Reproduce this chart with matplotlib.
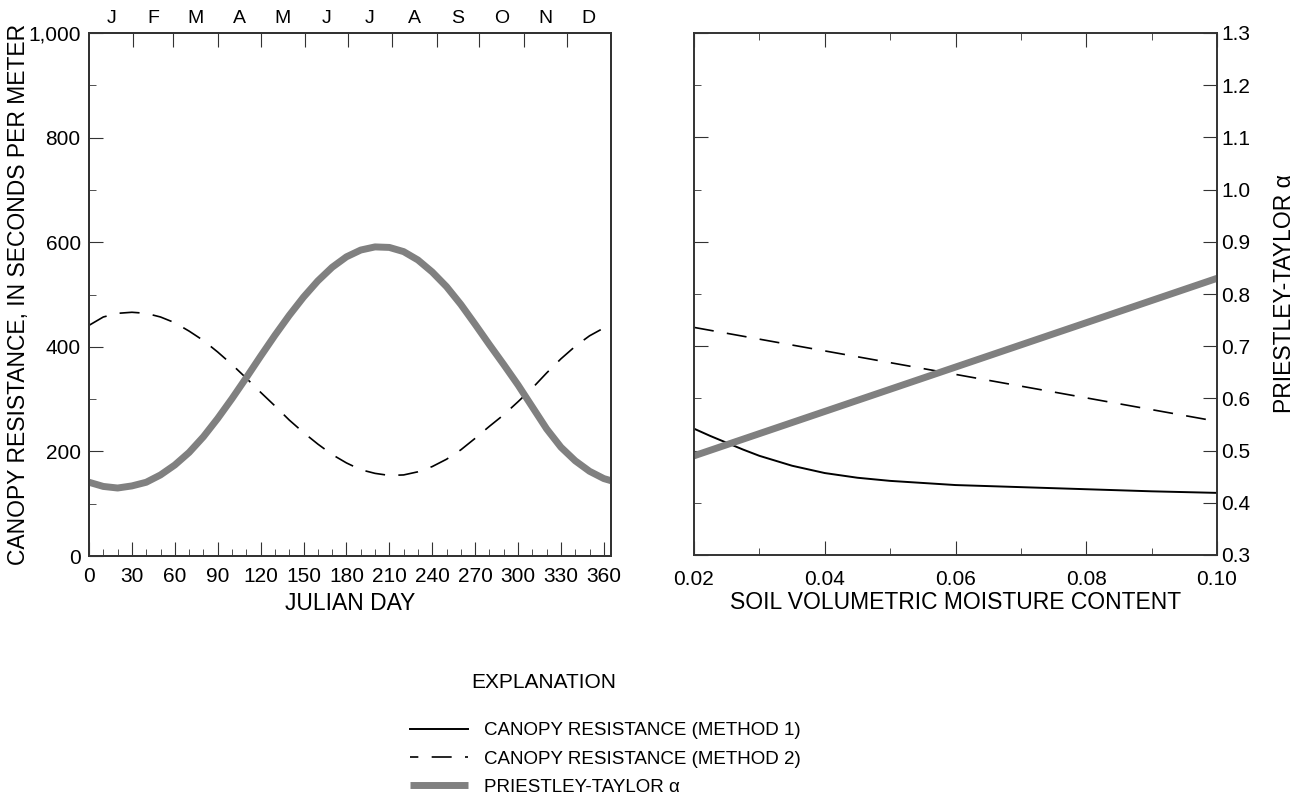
import matplotlib
matplotlib.use('Agg')
from matplotlib import pyplot as plt
from matplotlib.lines import Line2D
from matplotlib.ticker import FuncFormatter

plt.rcParams['font.family'] = ['Liberation Sans', 'DejaVu Sans']

# ---- left panel: julian day ----
days = [0, 10, 20, 30, 40, 50, 60, 70, 80, 90, 100, 110, 120, 130, 140, 150, 160, 170, 180,
        190, 200, 210, 220, 230, 240, 250, 260, 270, 280, 290, 300, 310, 320, 330, 340, 350, 360, 365]
rc_method2_day = [441, 457, 464, 466, 464, 457, 446, 430, 412, 390, 366, 340, 313, 287, 260, 236, 214, 194, 178,
                  165, 158, 154, 155, 161, 171, 185, 203, 225, 248, 270, 295, 321, 350, 377, 401, 421, 436, 441]
alpha_day = [0.441, 0.433, 0.430, 0.434, 0.441, 0.455, 0.474, 0.498, 0.528, 0.563, 0.601, 0.641, 0.682,
             0.722, 0.760, 0.795, 0.826, 0.852, 0.872, 0.885, 0.891, 0.890, 0.882, 0.866, 0.843, 0.815,
             0.781, 0.743, 0.704, 0.666, 0.627, 0.585, 0.543, 0.508, 0.482, 0.462, 0.448, 0.444]

month_edges = [31, 59, 90, 120, 151, 181, 212, 243, 273, 304, 334]
month_mid = [15.5, 45, 74.5, 105, 135.5, 166, 196.5, 227.5, 258, 288.5, 319, 349.5]
month_labels = ['J', 'F', 'M', 'A', 'M', 'J', 'J', 'A', 'S', 'O', 'N', 'D']

# ---- right panel: soil moisture ----
moisture = [0.02, 0.0225, 0.025, 0.0275, 0.03, 0.035, 0.04, 0.045, 0.05, 0.06, 0.07, 0.08, 0.09, 0.10]
rc_method1 = [242, 228, 215, 202, 190, 171, 157, 148, 142, 134, 130, 126, 122, 119]
moisture_lin = [0.02, 0.04, 0.06, 0.08, 0.10]
rc_method2_moist = [436, 391, 346, 301, 256]
alpha_moist = [0.49, 0.575, 0.66, 0.745, 0.83]

GRAY = '#808080'
SPINE = '#333333'
FS = 15      # tick labels
FL = 16.5    # axis labels
FE = 13.5    # legend
dash = (12, 8)

fig = plt.figure(figsize=(13.02, 7.98), dpi=100)

def style_spines(ax):
    for s in ax.spines.values():
        s.set_color(SPINE)
        s.set_linewidth(1.2)

# left panel
ax1 = fig.add_axes([89/1302, 1-556/798, (611-89)/1302, (556-33)/798])
ax1.plot(days, rc_method2_day, color='black', lw=1.2, dashes=dash)
ax1.set_xlim(0, 365)
ax1.set_ylim(0, 1000)
ax1.set_xticks(range(0, 361, 30))
ax1.set_xticks(range(0, 366, 10), minor=True)
ax1.set_yticks(range(0, 1001, 200))
ax1.set_yticks(range(0, 1001, 100), minor=True)
ax1.yaxis.set_major_formatter(FuncFormatter(lambda v, p: f'{int(v):,}'))
ax1.tick_params(axis='x', which='major', direction='in', length=10, pad=8, labelsize=FS, color=SPINE)
ax1.tick_params(axis='x', which='minor', direction='in', length=5, color=SPINE)
ax1.tick_params(axis='y', which='major', direction='in', length=10, pad=6, labelsize=FS, color=SPINE)
ax1.tick_params(axis='y', which='minor', direction='in', length=5, color=SPINE)
ax1.set_xlabel('JULIAN DAY', fontsize=FL, labelpad=4)
ax1.set_ylabel('CANOPY RESISTANCE, IN SECONDS PER METER', fontsize=FL, labelpad=-1)
style_spines(ax1)

ax1a = ax1.twinx()
ax1a.plot(days, alpha_day, color=GRAY, lw=5, solid_capstyle='butt')
ax1a.set_ylim(0.3, 1.3)
ax1a.set_yticks([])
style_spines(ax1a)

ax1t = ax1.twiny()
ax1t.set_xlim(0, 365)
ax1t.set_xticks(month_edges)
ax1t.set_xticklabels([])
ax1t.set_xticks(month_mid, minor=True)
ax1t.set_xticklabels(month_labels, minor=True)
ax1t.tick_params(axis='x', which='major', direction='in', length=10, color=SPINE)
ax1t.tick_params(axis='x', which='minor', length=0, pad=4, labelsize=14)
style_spines(ax1t)

# right panel
ax2 = fig.add_axes([694/1302, 1-555/798, (1217-694)/1302, (555-33)/798])
ax2.plot(moisture, rc_method1, color='black', lw=1.4)
ax2.plot(moisture_lin, rc_method2_moist, color='black', lw=1.2, dashes=dash)
ax2.set_xlim(0.02, 0.10)
ax2.set_ylim(0, 1000)
ax2.set_xticks([0.02, 0.04, 0.06, 0.08, 0.10])
ax2.set_xticklabels(['0.02', '0.04', '0.06', '0.08', '0.10'])
ax2.set_xticks([0.03, 0.05, 0.07, 0.09], minor=True)
ax2.set_yticks(range(0, 1001, 200))
ax2.set_yticks(range(0, 1001, 100), minor=True)
ax2.tick_params(axis='x', which='major', direction='in', length=10, pad=11, top=True, labelsize=FS, color=SPINE)
ax2.tick_params(axis='x', which='minor', direction='in', length=5, top=True, color=SPINE)
ax2.tick_params(axis='y', which='major', direction='in', length=10, labelleft=False, color=SPINE)
ax2.tick_params(axis='y', which='minor', direction='in', length=5, color=SPINE)
ax2.set_xlabel('SOIL VOLUMETRIC MOISTURE CONTENT', fontsize=FL, labelpad=1)
style_spines(ax2)

ax2r = ax2.twinx()
ax2r.plot(moisture_lin, alpha_moist, color=GRAY, lw=5, solid_capstyle='butt')
ax2r.set_ylim(0.3, 1.3)
ax2r.set_yticks([0.3 + 0.1*i for i in range(11)])
ax2r.set_yticklabels([f'{0.3 + 0.1*i:.1f}' for i in range(11)])
ax2r.tick_params(axis='y', direction='in', length=10, pad=3, labelsize=FS, color=SPINE)
ax2r.set_ylabel('PRIESTLEY-TAYLOR α', fontsize=FL, labelpad=16)
style_spines(ax2r)

# explanation
fig.text(544/1302, 1-683/798, 'EXPLANATION', ha='center', va='center', fontsize=15)
handles = [Line2D([], [], color='black', lw=1.4),
           Line2D([], [], color='black', lw=1.2, linestyle=(7, dash)),
           Line2D([], [], color=GRAY, lw=5, solid_capstyle='butt')]
labels = ['CANOPY RESISTANCE (METHOD 1)', 'CANOPY RESISTANCE (METHOD 2)', 'PRIESTLEY-TAYLOR α']
fig.legend(handles, labels, loc='upper left', bbox_to_anchor=(410/1302, 1-722/798),
           frameon=False, fontsize=FE, handlelength=3.1, handletextpad=0.85,
           labelspacing=0.6, borderpad=0, borderaxespad=0)

fig.savefig('out.png', dpi=100)
